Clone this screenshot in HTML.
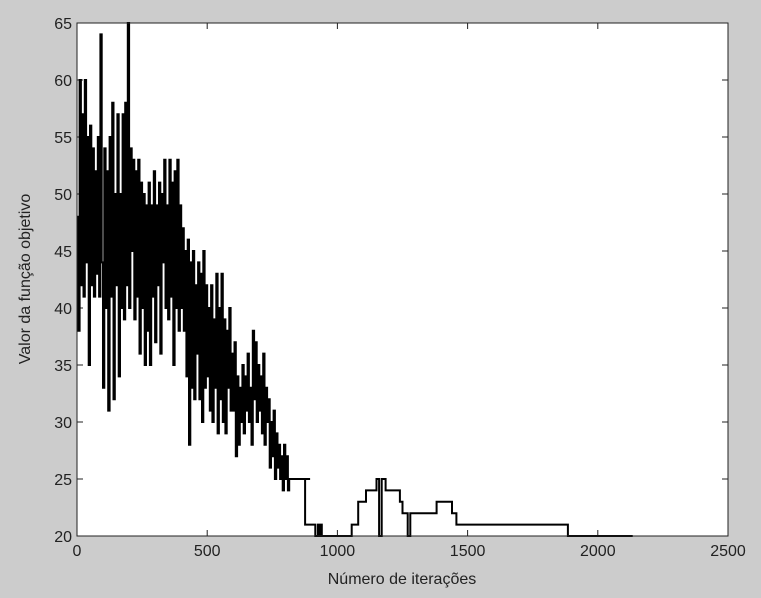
<!DOCTYPE html>
<html><head><meta charset="utf-8"><style>
body{margin:0;background:#cccccc;}
svg{display:block;font-family:"Liberation Sans",sans-serif;}
</style></head><body>
<svg id="chart" width="761" height="598">
<rect x="0" y="0" width="761" height="598" fill="#cccccc"/>
<rect x="77" y="23" width="651" height="513" fill="#ffffff"/>
<g id="ticks"></g>
<path id="series" fill="none" stroke="#000" stroke-width="2"/>
<rect x="77" y="23" width="651" height="513" fill="none" stroke="#222" stroke-width="1"/>
<text x="402" y="584" font-size="16" fill="#222" text-anchor="middle">Número de iterações</text>
<text transform="translate(30,279) rotate(-90)" font-size="16" fill="#222" text-anchor="middle">Valor da função objetivo</text>
</svg>
<script>
const denseValues=[
48,38,60,42,57,41,60,44,55,35,56,42,54,41,52,43,55,41,64,44,
33,54,40,52,31,55,41,58,32,50,42,57,34,50,40,57,39,58,42,65,
40,54,45,53,39,52,41,53,36,51,40,50,35,49,38,51,35,49,41,52,
37,49,42,51,36,50,44,53,40,49,39,53,41,51,35,52,40,53,38,49,
40,47,38,45,34,46,28,44,33,45,32,42,36,44,32,43,30,45,33,42,
34,40,31,42,30,39,33,43,29,40,32,43,30,39,29,38,33,40,31,36,
31,37,27,34,28,33,30,35,29,34,31,36,30,33,28,38,32,37,30,35,
31,34,29,36,28,33,30,32,26,30,27,31,25,29,26,28,25,27,24,28,
25,27,24,25,25,25,25,25,25,25,25,25,25,25,25,25,25,25,25,25];
const denseStep=5;
const tailIters=[876,915,925,930,935,940,1055,1080,1110,1150,1160,1170,1185,1190,1200,1240,1250,1270,1280,1300,1309,1381,1440,1457,1885,2134];
const tailValues=[21,20,21,20,21,20,21,23,24,25,20,25,24,24,24,23,22,20,22,22,22,23,22,21,20,20];
const xTicks=[0,500,1000,1500,2000,2500];
const yTicks=[20,25,30,35,40,45,50,55,60,65];
const L=77,R=728,T=23,B=536;
function sx(v){return L+(v-0)/2500*(R-L);}
function sy(v){return B-(v-20)/45*(B-T);}
const pts=[];
denseValues.forEach((v,i)=>pts.push([i*denseStep,v]));
tailIters.forEach((x,i)=>pts.push([x,tailValues[i]]));
let d='M'+sx(pts[0][0]).toFixed(1)+','+sy(pts[0][1]).toFixed(1);
for(let i=1;i<pts.length;i++){
  d+=' H'+sx(pts[i][0]).toFixed(1)+' V'+sy(pts[i][1]).toFixed(1);
}
document.getElementById('series').setAttribute('d',d);
const g=document.getElementById('ticks');
const NS='http://www.w3.org/2000/svg';
xTicks.forEach(t=>{
  const x=sx(t);
  const l=document.createElementNS(NS,'path');
  l.setAttribute('d',`M${x},${B} V${B-6} M${x},${T} V${T+6}`);
  l.setAttribute('stroke','#222');
  
  
  g.appendChild(l);
  const tx=document.createElementNS(NS,'text');
  tx.setAttribute('x',x);tx.setAttribute('y',B+20);
  tx.setAttribute('font-size','16');tx.setAttribute('fill','#222');tx.setAttribute('text-anchor','middle');
  tx.textContent=t;
  
  
  g.appendChild(tx);
});
yTicks.forEach(t=>{
  const y=sy(t);
  const l=document.createElementNS(NS,'path');
  l.setAttribute('d',`M${L},${y} H${L+6} M${R},${y} H${R-6}`);
  l.setAttribute('stroke','#222');
  
  
  g.appendChild(l);
  const tx=document.createElementNS(NS,'text');
  tx.setAttribute('x',L-5);tx.setAttribute('y',y+6);
  tx.setAttribute('font-size','16');tx.setAttribute('fill','#222');tx.setAttribute('text-anchor','end');
  tx.textContent=t;
  
  
  g.appendChild(tx);
});
</script>
</body></html>
